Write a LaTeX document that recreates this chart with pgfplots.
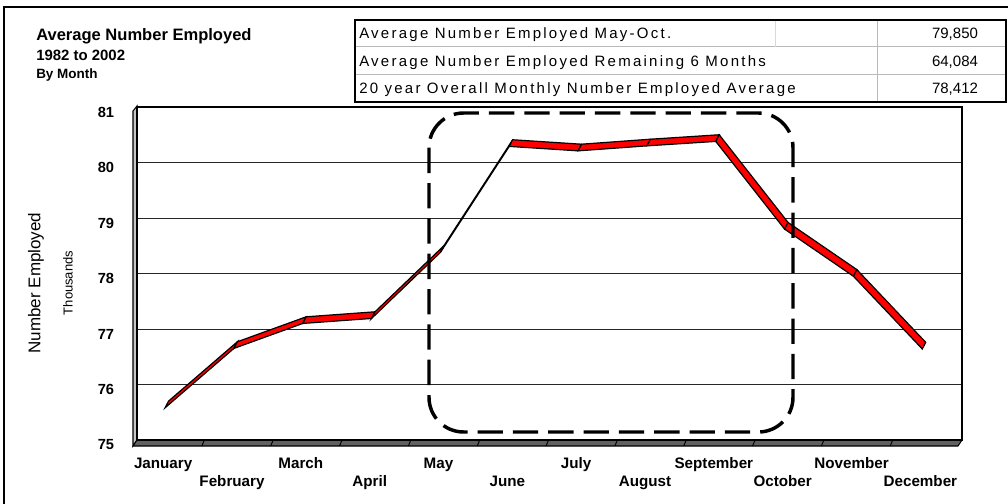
\documentclass[border=0pt]{standalone}
\usepackage{fontspec}
\setmainfont{Liberation Sans}
\newfontfamily\tablefont[LetterSpace=15]{Liberation Sans}
\usepackage{pgfplots}
\pgfplotsset{compat=1.18}
\begin{document}
\begin{tikzpicture}[x=0.75pt,y=-0.75pt]
\path[use as bounding box] (0,0) rectangle (1008,504);
% outer frame (top and left visible)
\draw[line width=1.5pt] (4,504) -- (4,7) -- (1008,7);
% titles
\node[anchor=base west, inner sep=0, font=\fontsize{12.4}{14}\selectfont\bfseries] at (36,40) {Average Number Employed};
\node[anchor=base west, inner sep=0, font=\fontsize{11.2}{13}\selectfont\bfseries] at (36,60) {1982 to 2002};
\node[anchor=base west, inner sep=0, font=\fontsize{10.1}{12}\selectfont\bfseries] at (36,78) {By Month};
% table
\draw[gray!55, line width=0.75pt] (355,46.7) -- (1006,46.7) (355,74.3) -- (1006,74.3);
\draw[gray!55, line width=0.75pt] (877,20) -- (877,102);
\draw[gray!30, line width=0.75pt] (775,20) -- (775,46.7);
\draw[black, line width=1.3pt] (355,20) rectangle (1006,102);
\begin{scope}[every node/.style={inner sep=0, font=\tablefont\fontsize{11.25}{13}\selectfont}]
\node[anchor=base west] at (359,38.5) {Average Number Employed May-Oct.};
\node[anchor=base west] at (359,66) {Average Number Employed Remaining 6 Months};
\node[anchor=base west] at (359,93.5) {20 year Overall Monthly Number Employed Average};
\end{scope}
\begin{scope}[every node/.style={inner sep=0, font=\fontsize{11.25}{13}\selectfont}]
\node[anchor=base] at (955,38.5) {79,850};
\node[anchor=base] at (955,66) {64,084};
\node[anchor=base] at (955,93.5) {78,412};
\end{scope}
% axis titles
\node[rotate=90, inner sep=0, font=\fontsize{12.75}{14}\selectfont] at (36,283) {Number Employed};
\node[rotate=90, inner sep=0, font=\fontsize{9.75}{11}\selectfont] at (68,283) {Thousands};
% left wall and floor
\filldraw[fill=gray!45, line width=0.8pt] (133,446) -- (133,111) -- (137,106) -- (137,440) -- cycle;
\filldraw[fill=black!62, line width=0.8pt] (133,446) -- (137,440) -- (962,440) -- (958,446) -- cycle;
\foreach \i in {1,...,11} \draw[line width=0.7pt] ({133+68.84*\i},446) -- ({135.5+68.84*\i},440);
\begin{axis}[
  at={(102.75pt,-330pt)}, anchor=south west,
  width=618.75pt, height=249.75pt, scale only axis,
  xmin=0.5424, xmax=12.527, ymin=75, ymax=81,
  ytick={75,76,...,81},
  ymajorgrids, grid style={black!85, line width=0.75pt},
  axis line style={black, line width=1.4pt},
  major tick length=0pt,
  /pgf/number format/assume math mode=true,
  ticklabel style={inner sep=0pt},
  yticklabel style={font=\fontsize{11}{13}\selectfont\bfseries, anchor=east, xshift=-17pt, yshift=-3.75pt},
  xtick={1,3,5,7,9,11},
  xticklabels={January,March,May,July,September,November},
  xticklabel style={font=\fontsize{11.4}{13}\selectfont\bfseries, anchor=base, xshift=-4pt, yshift=-21.6pt},
  extra x ticks={2,4,6,8,10,12},
  extra x tick labels={February,April,June,August,October,December},
  extra x tick style={xticklabel style={yshift=-13.3pt}},
  clip=false,
]
\addplot[fill=red, draw=black, line width=0.9pt] coordinates {(1,75.70) (2,76.77) (1.95,76.65) (0.95,75.58)} --cycle;
\addplot[fill=red, draw=black, line width=0.9pt] coordinates {(2,76.77) (3,77.22) (2.95,77.10) (1.95,76.65)} --cycle;
\addplot[fill=red, draw=black, line width=0.9pt] coordinates {(3,77.22) (4,77.31) (3.95,77.19) (2.95,77.10)} --cycle;
\addplot[fill=red, draw=black, line width=0.9pt] coordinates {(4,77.31) (5,78.50) (4.95,78.38) (3.95,77.19)} --cycle;
\addplot[fill=red, draw=black, line width=0.9pt] coordinates {(5,78.50) (6,80.41) (5.95,80.29) (4.95,78.38)} --cycle;
\addplot[fill=red, draw=black, line width=0.9pt] coordinates {(6,80.41) (7,80.33) (6.95,80.21) (5.95,80.29)} --cycle;
\addplot[fill=red, draw=black, line width=0.9pt] coordinates {(7,80.33) (8,80.42) (7.95,80.30) (6.95,80.21)} --cycle;
\addplot[fill=red, draw=black, line width=0.9pt] coordinates {(8,80.42) (9,80.50) (8.95,80.38) (7.95,80.30)} --cycle;
\addplot[fill=red, draw=black, line width=0.9pt] coordinates {(9,80.50) (10,78.92) (9.95,78.80) (8.95,80.38)} --cycle;
\addplot[fill=red, draw=black, line width=0.9pt] coordinates {(10,78.92) (11,78.07) (10.95,77.95) (9.95,78.80)} --cycle;
\addplot[fill=red, draw=black, line width=0.9pt] coordinates {(11,78.07) (12,76.76) (11.95,76.64) (10.95,77.95)} --cycle;
\end{axis}
% highlight box
\draw[line width=2.6pt, dash pattern=on 19pt off 7.5pt, rounded corners=26pt] (429,113) rectangle (793,432);
\end{tikzpicture}
\end{document}
